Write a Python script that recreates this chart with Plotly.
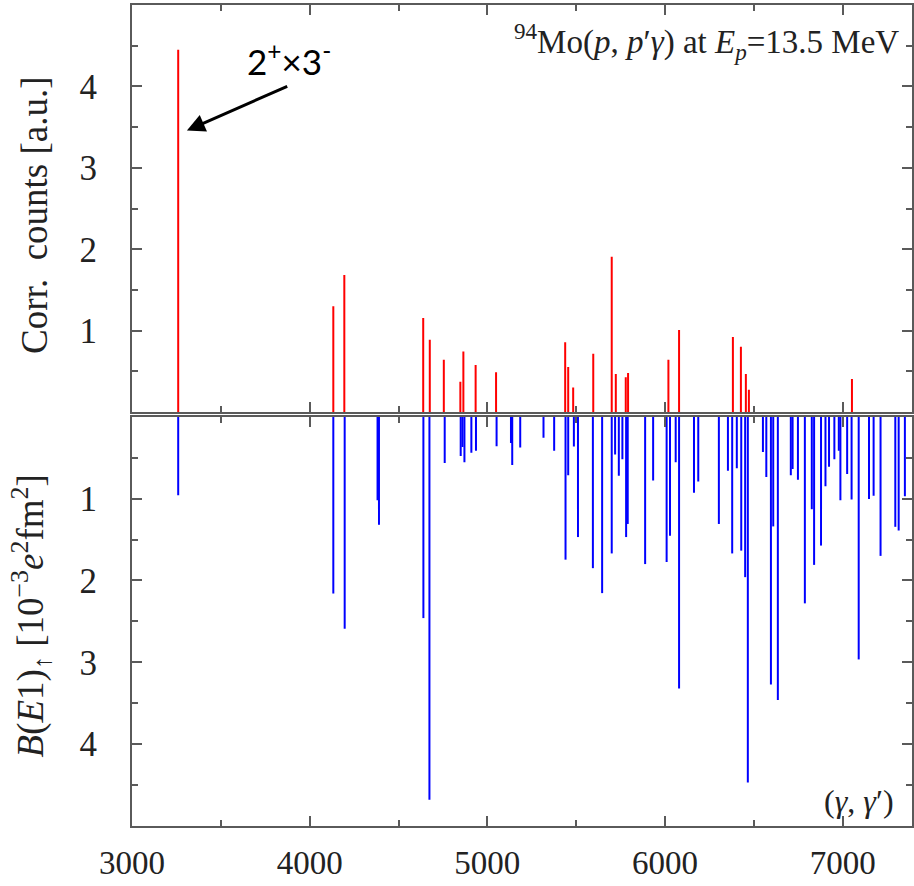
import plotly.graph_objects as go

# ---- data ----
pp_energy = [3260, 4133, 4195, 4639, 4676, 4755, 4848, 4865, 4934, 5049,
             5438, 5455, 5483, 5596, 5700, 5723, 5779, 5792, 6019, 6079,
             6382, 6427, 6455, 6472, 7052]
pp_counts = [4.45, 1.30, 1.685, 1.157, 0.89, 0.645, 0.375, 0.747, 0.58, 0.49,
             0.858, 0.555, 0.305, 0.719, 1.91, 0.469, 0.428, 0.48, 0.645, 1.01,
             0.924, 0.805, 0.469, 0.276, 0.408]

gg_energy = [3260, 4133, 4197, 4382, 4390, 4640, 4674, 4760, 4850, 4860,
             4871, 4910, 4936, 5052, 5133, 5140, 5185, 5316, 5376, 5440,
             5455, 5487, 5510, 5594, 5646, 5700, 5719, 5740, 5760, 5781,
             5790, 5888, 5933, 6009, 6028, 6060, 6079, 6163, 6187, 6303,
             6354, 6378, 6404, 6429, 6451, 6466, 6551, 6570, 6596, 6609,
             6635, 6708, 6718, 6748, 6787, 6826, 6839, 6878, 6903, 6923,
             6953, 6978, 6987, 7025, 7050, 7090, 7148, 7174, 7213, 7296,
             7315, 7350]
gg_be1 = [0.96, 2.16, 2.59, 1.02, 1.32, 2.46, 4.68, 0.564, 0.48, 0.37,
          0.556, 0.44, 0.417, 0.36, 0.32, 0.59, 0.376, 0.257, 0.417, 1.746,
          0.715, 0.364, 1.47, 1.85, 2.155, 1.67, 0.46, 0.72, 0.52, 1.47,
          1.31, 1.80, 0.78, 1.775, 1.455, 0.556, 3.32, 0.93, 0.79, 1.31,
          0.66, 1.67, 0.63, 1.636, 1.96, 4.47, 0.43, 0.736, 3.27, 1.34,
          3.46, 0.715, 0.64, 0.77, 2.28, 1.13, 1.81, 1.574, 0.85, 0.61,
          0.52, 0.417, 1.02, 0.70, 1.01, 2.965, 1.006, 0.965, 1.70, 1.345,
          1.39, 0.973]

x_ticks = [3000, 4000, 5000, 6000, 7000]
y_ticks = [1, 2, 3, 4]


def spikes(xs, ys):
    sx, sy = [], []
    for x, y in zip(xs, ys):
        sx += [x, x, None]
        sy += [0, y, None]
    return sx, sy


fig = go.Figure()
tx, ty = spikes(pp_energy, pp_counts)
fig.add_trace(go.Scatter(x=tx, y=ty, mode="lines", line=dict(color="#ff0000", width=2),
                         xaxis="x", yaxis="y", showlegend=False, hoverinfo="skip"))
bx, by = spikes(gg_energy, gg_be1)
fig.add_trace(go.Scatter(x=bx, y=by, mode="lines", line=dict(color="#0000ff", width=2),
                         xaxis="x2", yaxis="y2", showlegend=False, hoverinfo="skip"))

SERIF = "Liberation Serif"
AX = "#5a5a5a"
common_x = dict(range=[3000, 7390], tickvals=x_ticks, ticks="inside", ticklen=10,
                tickwidth=1.5, tickcolor=AX, showline=True, linecolor=AX, linewidth=2,
                mirror="ticks", showgrid=False, zeroline=False, automargin=False,
                minor=dict(dtick=500, tick0=3000, ticks="inside", ticklen=6, tickcolor=AX,
                           tickwidth=1.5, showgrid=False),
                tickfont=dict(family=SERIF, size=33, color="#222"))
common_y = dict(tickvals=y_ticks, ticks="inside", ticklen=10, tickwidth=1.5, tickcolor=AX,
                showline=True, linecolor=AX, linewidth=2, mirror="ticks",
                showgrid=False, zeroline=False, automargin=False,
                minor=dict(dtick=0.5, tick0=0, ticks="inside", ticklen=6, tickcolor=AX,
                           tickwidth=1.5, showgrid=False),
                tickfont=dict(family=SERIF, size=35, color="#222"), ticklabelstandoff=26)

fig.update_layout(
    width=914, height=886,
    margin=dict(l=132, r=2, t=5, b=60),
    paper_bgcolor="white", plot_bgcolor="white",
    xaxis=dict(common_x, domain=[0, 1], anchor="y", showticklabels=False),
    yaxis=dict(common_y, domain=[0.504, 1], anchor="x", range=[0, 5]),
    xaxis2=dict(common_x, domain=[0, 1], anchor="y2", showticklabels=True,
                ticklabelstandoff=6),
    yaxis2=dict(common_y, domain=[0, 0.4985], anchor="x2", range=[5, 0]),
)

anns = [
    dict(xref="paper", yref="paper", x=-0.126, y=0.744, textangle=-90, showarrow=False,
         text="Corr.  counts [a.u.]", font=dict(family=SERIF, size=37, color="#222"),
         xanchor="center", yanchor="middle"),
    dict(xref="paper", yref="paper", x=-0.13, y=0.256, textangle=-90, showarrow=False,
         text="<i>B</i>(<i>E</i>1)<sub>↑</sub> [10<sup>−3</sup><i>e</i><sup>2</sup>fm<sup>2</sup>]",
         font=dict(family=SERIF, size=37, color="#222"),
         xanchor="center", yanchor="middle"),
    dict(xref="paper", yref="paper", x=0.986, y=0.956, showarrow=False,
         text="<sup>94</sup>Mo(<i>p</i>, <i>p</i>′<i>γ</i>) at <i>E</i><sub><i>p</i></sub>=13.5 MeV",
         font=dict(family=SERIF, size=33, color="#222"), xanchor="right", yanchor="middle"),
    dict(xref="paper", yref="paper", x=0.98, y=0.031, showarrow=False,
         text="(<i>γ</i>, <i>γ</i>′)",
         font=dict(family=SERIF, size=32, color="#222"), xanchor="right", yanchor="middle"),
    dict(xref="x", yref="y", x=3882, y=4.34, showarrow=False,
         text="2<sup>+</sup>×3<sup>-</sup>", font=dict(family="Lato", size=35, color="black"),
         xanchor="center", yanchor="middle"),
    dict(xref="x", yref="y", axref="x", ayref="y", x=3309, y=3.46, ax=3882, ay=4.01,
         text="", showarrow=True, arrowhead=2, arrowsize=1.2, arrowwidth=3,
         arrowcolor="black", standoff=0),
]
fig.update_layout(annotations=anns)

fig.write_html("out.html")
